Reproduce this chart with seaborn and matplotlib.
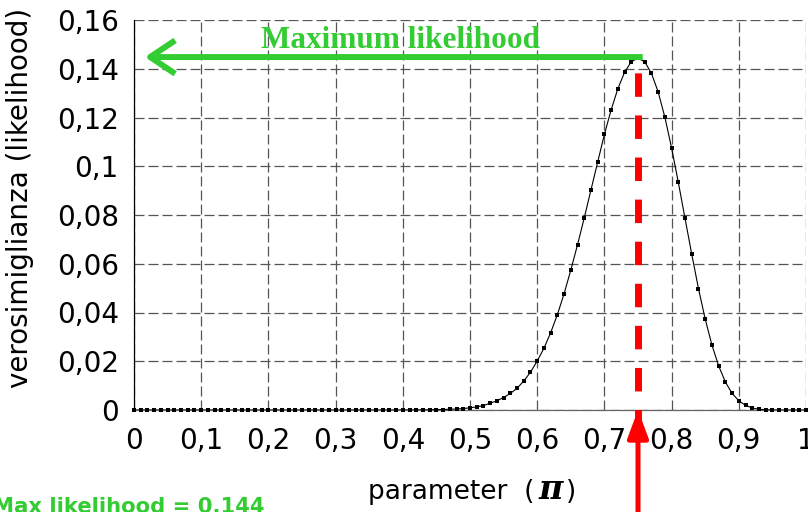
import numpy as np
import pandas as pd
import matplotlib
matplotlib.use("Agg")
import matplotlib.pyplot as plt
import seaborn as sns

# ---------------- data ----------------
param_grid = np.linspace(0, 1, 101)
likelihood = [
    0, 0, 0, 0, 0, 0, 0, 0, 0, 0,                                  # 0.00-0.09
    0, 0, 0, 0, 0, 0, 0, 0, 0, 0,                                  # 0.10-0.19
    0, 0, 0, 0, 0, 0, 0, 0, 0, 0,                                  # 0.20-0.29
    0, 0, 0, 0, 0, 0, 0, 0, 0, 0.00001,                            # 0.30-0.39
    0.00002, 0.00003, 0.00005, 0.00007, 0.0001, 0.00015, 0.0002, 0.0003, 0.0004, 0.0006,  # 0.40-0.49
    0.0009, 0.0013, 0.0018, 0.0028, 0.0038, 0.0051, 0.0068, 0.0089, 0.0119, 0.0155,     # 0.50-0.59
    0.0201, 0.0253, 0.0317, 0.0391, 0.0477, 0.0574, 0.0678, 0.0788, 0.0903, 0.1017,     # 0.60-0.69
    0.1131, 0.1231, 0.1318, 0.1385, 0.1429, 0.1443, 0.1429, 0.1381, 0.1305, 0.1201,     # 0.70-0.79
    0.1075, 0.0934, 0.0786, 0.0639, 0.0498, 0.0373, 0.0267, 0.0181, 0.0115, 0.0068,     # 0.80-0.89
    0.0038, 0.0019, 0.0008, 0.0003, 0.0001, 0.00004, 0.00001, 0, 0, 0,                  # 0.90-0.99
    0,                                                                                  # 1.00
]
x_ticks = [0, 0.1, 0.2, 0.3, 0.4, 0.5, 0.6, 0.7, 0.8, 0.9, 1.0]
x_tick_labels = ["0", "0,1", "0,2", "0,3", "0,4", "0,5", "0,6", "0,7", "0,8", "0,9", "1"]
y_ticks = [0, 0.02, 0.04, 0.06, 0.08, 0.10, 0.12, 0.14, 0.16]
y_tick_labels = ["0", "0,02", "0,04", "0,06", "0,08", "0,1", "0,12", "0,14", "0,16"]
max_param = 0.75
max_likelihood = 0.144
arrow_y = 0.1448
arrow_tip_x = 0.016
arrow_tail_x = 0.757

df = pd.DataFrame({"param": param_grid, "likelihood": likelihood})

# ---------------- style ----------------
sns.set_style("white")
plt.rcParams["font.family"] = ["DejaVu Sans"]
plt.rcParams["text.color"] = "black"

GREEN = "#33CC33"
RED = "#FF0000"

fig = plt.figure(figsize=(8.08, 5.12), dpi=100)
ax = fig.add_axes([134 / 808, 102 / 512, 672 / 808, 390 / 512])

sns.lineplot(data=df, x="param", y="likelihood", ax=ax, color="black",
             linewidth=0.8, zorder=3)
sns.scatterplot(data=df, x="param", y="likelihood", ax=ax, color="black",
                marker="s", s=12, linewidth=0, zorder=4, clip_on=False)

ax.set_xlim(0, 1)
ax.set_ylim(0, 0.16)
ax.set_xticks(x_ticks)
ax.set_xticklabels(x_tick_labels)
ax.set_yticks(y_ticks)
ax.set_yticklabels(y_tick_labels)
ax.tick_params(axis="both", labelsize=20, colors="black")
ax.tick_params(axis="y", direction="out", length=8, width=0.9, pad=3, color="black")
ax.tick_params(axis="x", direction="out", length=6, width=0.9, pad=6, color="#444444")
ax.set_xlabel("")
ax.set_ylabel("")

ax.grid(True, linestyle=(0, (8, 3.2)), color="#555555", linewidth=0.9)
ax.set_axisbelow(True)
for s in ["top", "right"]:
    ax.spines[s].set_visible(False)
ax.spines["left"].set_color("black")
ax.spines["left"].set_linewidth(0.9)
ax.spines["bottom"].set_color("#666666")
ax.spines["bottom"].set_linewidth(0.9)

# red dashed vertical line at the maximum
ax.plot([max_param, max_param], [-0.0094, max_likelihood], color=RED,
        linewidth=5, linestyle=(0, (3.38, 2.68)), solid_capstyle="butt",
        dash_capstyle="butt", clip_on=False, zorder=5)

# red arrow from below pointing to the axis
ax.annotate("", xy=(max_param, 0), xycoords="data",
            xytext=(max_param, -0.06), textcoords="data",
            arrowprops=dict(arrowstyle="-|>,head_length=0.83,head_width=0.31",
                            color=RED, lw=3.6, mutation_scale=20,
                            shrinkA=0, shrinkB=0),
            annotation_clip=False, zorder=6)

# green arrow pointing to the y axis
ax.annotate("", xy=(arrow_tip_x, arrow_y), xycoords="data",
            xytext=(arrow_tail_x, arrow_y), textcoords="data",
            arrowprops=dict(arrowstyle="->,head_length=0.9,head_width=0.6",
                            color=GREEN, lw=4.3, mutation_scale=20,
                            shrinkA=0, shrinkB=0, capstyle="butt"),
            annotation_clip=False, zorder=6)
ax.text(0.397, 0.1485, "Maximum likelihood", color=GREEN,
        family="Liberation Serif", fontweight="bold", fontsize=22.5,
        ha="center", va="baseline", zorder=7)

# y label
fig.text(20 / 808, (512 - 198) / 512, "verosimiglianza (likelihood)",
         rotation=90, ha="center", va="center", fontsize=20, color="black")

# x label  "parameter  (π)"
base_y = (512 - 499) / 512
fig.text(368 / 808, base_y, "parameter  (", ha="left", va="baseline",
         fontsize=19, color="black")
fig.text(551 / 808, base_y, "π", ha="center", va="baseline", fontsize=24,
         family="DejaVu Serif", fontweight="bold", fontstyle="italic", color="black")
fig.text(566 / 808, base_y, ")", ha="left", va="baseline", fontsize=19, color="black")

# bottom-left note (partly cut off)
fig.text(-7 / 808, -1 / 512, "Max likelihood = 0.144", color=GREEN,
         fontsize=15.2, fontweight="bold", ha="left", va="baseline")

fig.savefig("out.png", dpi=100)
